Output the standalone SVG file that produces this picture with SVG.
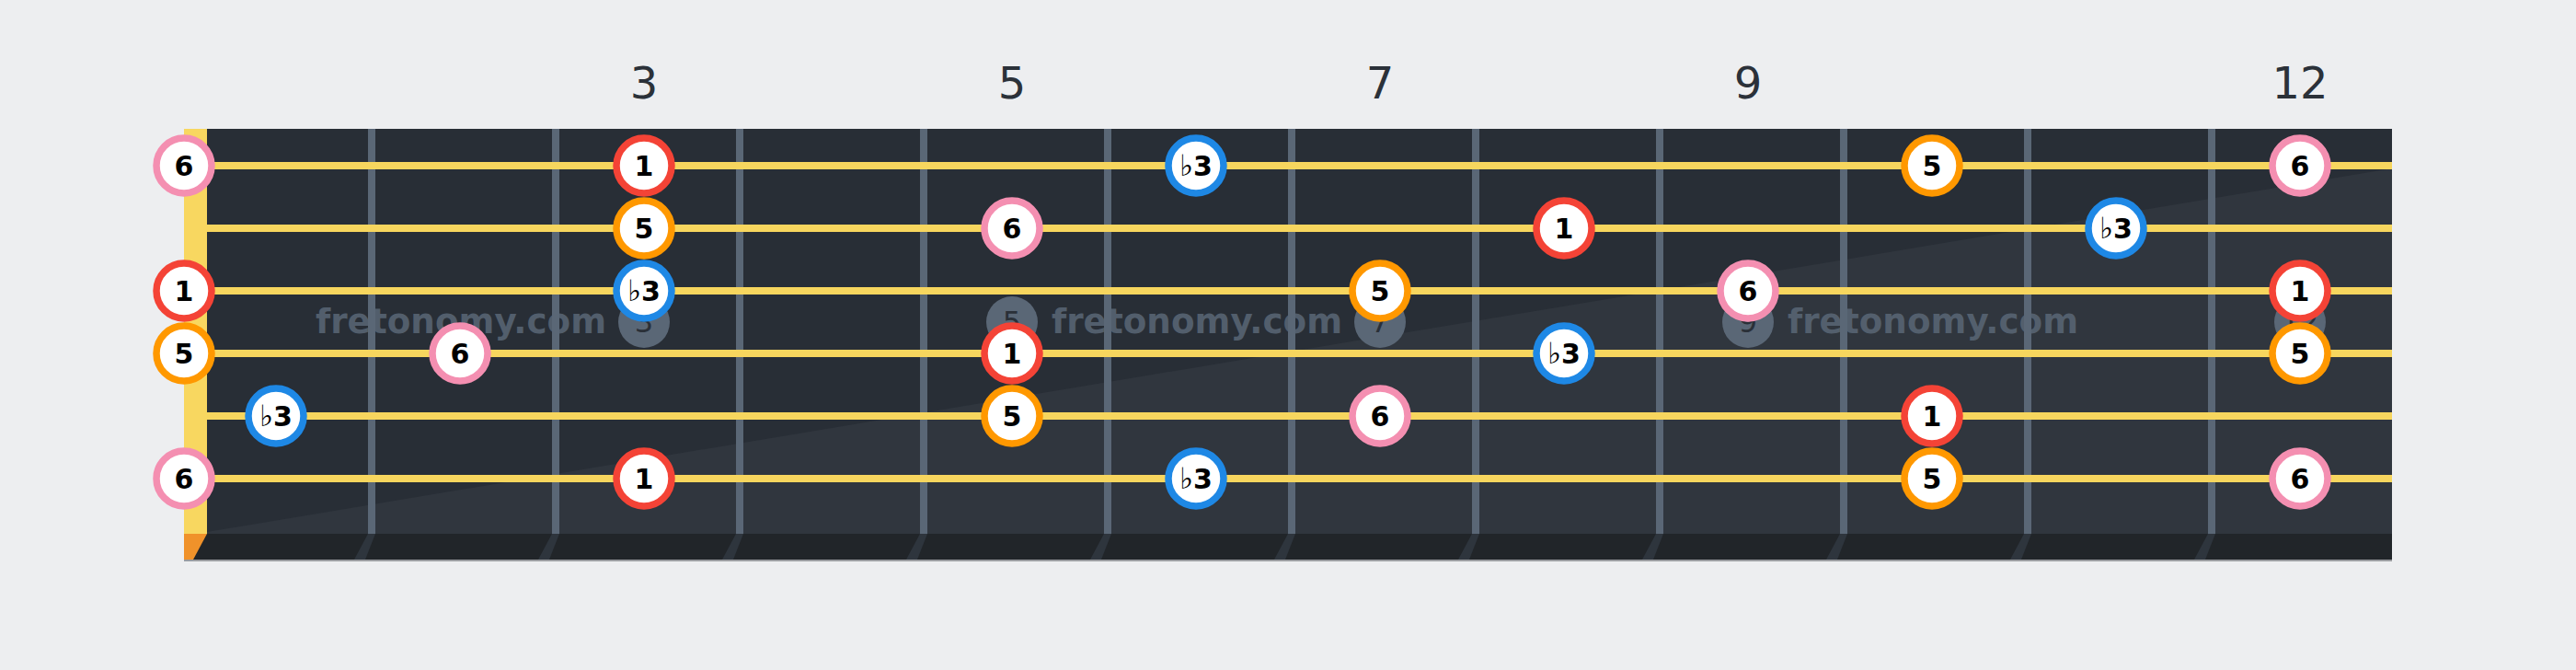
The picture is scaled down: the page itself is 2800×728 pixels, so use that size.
<svg xmlns="http://www.w3.org/2000/svg" width="2800" height="728" viewBox="0 0 2800 728">
<defs>
<style>
.fret{stroke:#5a6776;stroke-width:8}
.str{stroke:#f7d65e;stroke-width:8}
.fs{fill:#2e353d}
.mk{fill:#5a6776}
.mkt{font-family:"DejaVu Sans",sans-serif;font-size:32px;fill:#2a3038;text-anchor:middle}
.fn{font-family:"DejaVu Sans",sans-serif;font-size:48px;fill:#2b3139;text-anchor:middle}
.wm{font-family:"DejaVu Sans",sans-serif;font-weight:bold;font-size:37.3px;fill:#5a6776;opacity:0.85}
.n circle{fill:#ffffff;stroke-width:7.5}
.n text{font-family:"DejaVu Sans",sans-serif;font-weight:bold;font-size:30px;fill:#000;text-anchor:middle}
.n text tspan.fl{font-weight:normal;font-size:32px}
.r circle{stroke:#f44336}
.o circle{stroke:#ff9800}
.b circle{stroke:#1e88e5}
.p circle{stroke:#f48fb1}
</style>
</defs>
<rect width="2800" height="728" fill="#edeef0"/>
<g id="fret-numbers">
<text class="fn" x="700" y="107">3</text>
<text class="fn" x="1100" y="107">5</text>
<text class="fn" x="1500" y="107">7</text>
<text class="fn" x="1900" y="107">9</text>
<text class="fn" x="2500" y="107">12</text>
</g>
<g id="board">
<rect x="225" y="140" width="2375" height="440" fill="#282e36"/>
<polygon points="225,578 2600,183 2600,580 225,580" fill="#30363e"/>
<rect x="200" y="580" width="2400" height="28" fill="#212529"/>
<rect x="200" y="608" width="2400" height="2" fill="#9a9ca0"/>
<rect x="200" y="140" width="25" height="440" fill="#f8d760"/>
<polygon points="200,580 225,580 210,608 200,608" fill="#f0922a"/>
<g id="fret-shadows">
<polygon class="fs" points="400,580 408,580 397,608 385,608"/>
<polygon class="fs" points="600,580 608,580 597,608 585,608"/>
<polygon class="fs" points="800,580 808,580 797,608 785,608"/>
<polygon class="fs" points="1000,580 1008,580 997,608 985,608"/>
<polygon class="fs" points="1200,580 1208,580 1197,608 1185,608"/>
<polygon class="fs" points="1400,580 1408,580 1397,608 1385,608"/>
<polygon class="fs" points="1600,580 1608,580 1597,608 1585,608"/>
<polygon class="fs" points="1800,580 1808,580 1797,608 1785,608"/>
<polygon class="fs" points="2000,580 2008,580 1997,608 1985,608"/>
<polygon class="fs" points="2200,580 2208,580 2197,608 2185,608"/>
<polygon class="fs" points="2400,580 2408,580 2397,608 2385,608"/>
</g>
<g id="frets">
<line class="fret" x1="404" y1="140" x2="404" y2="580"/>
<line class="fret" x1="604" y1="140" x2="604" y2="580"/>
<line class="fret" x1="804" y1="140" x2="804" y2="580"/>
<line class="fret" x1="1004" y1="140" x2="1004" y2="580"/>
<line class="fret" x1="1204" y1="140" x2="1204" y2="580"/>
<line class="fret" x1="1404" y1="140" x2="1404" y2="580"/>
<line class="fret" x1="1604" y1="140" x2="1604" y2="580"/>
<line class="fret" x1="1804" y1="140" x2="1804" y2="580"/>
<line class="fret" x1="2004" y1="140" x2="2004" y2="580"/>
<line class="fret" x1="2204" y1="140" x2="2204" y2="580"/>
<line class="fret" x1="2404" y1="140" x2="2404" y2="580"/>
</g>
<g id="markers">
<circle class="mk" cx="700" cy="350" r="28"/><text class="mkt" x="700" y="361">3</text>
<circle class="mk" cx="1100" cy="350" r="28"/><text class="mkt" x="1100" y="361">5</text>
<circle class="mk" cx="1500" cy="350" r="28"/><text class="mkt" x="1500" y="361">7</text>
<circle class="mk" cx="1900" cy="350" r="28"/><text class="mkt" x="1900" y="361">9</text>
<circle class="mk" cx="2500" cy="350" r="28"/><text class="mkt" x="2500" y="361">12</text>
</g>
<g id="watermark">
<text class="wm" x="343" y="362">fretonomy.com</text>
<text class="wm" x="1143" y="362">fretonomy.com</text>
<text class="wm" x="1943" y="362">fretonomy.com</text>
</g>
<g id="strings">
<line class="str" x1="225" y1="180" x2="2600" y2="180"/>
<line class="str" x1="225" y1="248" x2="2600" y2="248"/>
<line class="str" x1="225" y1="316" x2="2600" y2="316"/>
<line class="str" x1="225" y1="384" x2="2600" y2="384"/>
<line class="str" x1="225" y1="452" x2="2600" y2="452"/>
<line class="str" x1="225" y1="520" x2="2600" y2="520"/>
</g>
</g>
<g id="notes">
<g id="s1-f0" class="n p"><circle cx="200" cy="180" r="30"/><text x="200" y="191">6</text></g>
<g id="s1-f3" class="n r"><circle cx="700" cy="180" r="30"/><text x="700" y="191">1</text></g>
<g id="s1-f6" class="n b"><circle cx="1300" cy="180" r="30"/><text x="1300" y="191"><tspan class="fl">♭</tspan>3</text></g>
<g id="s1-f10" class="n o"><circle cx="2100" cy="180" r="30"/><text x="2100" y="191">5</text></g>
<g id="s1-f12" class="n p"><circle cx="2500" cy="180" r="30"/><text x="2500" y="191">6</text></g>

<g id="s2-f3" class="n o"><circle cx="700" cy="248" r="30"/><text x="700" y="259">5</text></g>
<g id="s2-f5" class="n p"><circle cx="1100" cy="248" r="30"/><text x="1100" y="259">6</text></g>
<g id="s2-f8" class="n r"><circle cx="1700" cy="248" r="30"/><text x="1700" y="259">1</text></g>
<g id="s2-f11" class="n b"><circle cx="2300" cy="248" r="30"/><text x="2300" y="259"><tspan class="fl">♭</tspan>3</text></g>

<g id="s3-f0" class="n r"><circle cx="200" cy="316" r="30"/><text x="200" y="327">1</text></g>
<g id="s3-f3" class="n b"><circle cx="700" cy="316" r="30"/><text x="700" y="327"><tspan class="fl">♭</tspan>3</text></g>
<g id="s3-f7" class="n o"><circle cx="1500" cy="316" r="30"/><text x="1500" y="327">5</text></g>
<g id="s3-f9" class="n p"><circle cx="1900" cy="316" r="30"/><text x="1900" y="327">6</text></g>
<g id="s3-f12" class="n r"><circle cx="2500" cy="316" r="30"/><text x="2500" y="327">1</text></g>

<g id="s4-f0" class="n o"><circle cx="200" cy="384" r="30"/><text x="200" y="395">5</text></g>
<g id="s4-f2" class="n p"><circle cx="500" cy="384" r="30"/><text x="500" y="395">6</text></g>
<g id="s4-f5" class="n r"><circle cx="1100" cy="384" r="30"/><text x="1100" y="395">1</text></g>
<g id="s4-f8" class="n b"><circle cx="1700" cy="384" r="30"/><text x="1700" y="395"><tspan class="fl">♭</tspan>3</text></g>
<g id="s4-f12" class="n o"><circle cx="2500" cy="384" r="30"/><text x="2500" y="395">5</text></g>

<g id="s5-f1" class="n b"><circle cx="300" cy="452" r="30"/><text x="300" y="463"><tspan class="fl">♭</tspan>3</text></g>
<g id="s5-f5" class="n o"><circle cx="1100" cy="452" r="30"/><text x="1100" y="463">5</text></g>
<g id="s5-f7" class="n p"><circle cx="1500" cy="452" r="30"/><text x="1500" y="463">6</text></g>
<g id="s5-f10" class="n r"><circle cx="2100" cy="452" r="30"/><text x="2100" y="463">1</text></g>

<g id="s6-f0" class="n p"><circle cx="200" cy="520" r="30"/><text x="200" y="531">6</text></g>
<g id="s6-f3" class="n r"><circle cx="700" cy="520" r="30"/><text x="700" y="531">1</text></g>
<g id="s6-f6" class="n b"><circle cx="1300" cy="520" r="30"/><text x="1300" y="531"><tspan class="fl">♭</tspan>3</text></g>
<g id="s6-f10" class="n o"><circle cx="2100" cy="520" r="30"/><text x="2100" y="531">5</text></g>
<g id="s6-f12" class="n p"><circle cx="2500" cy="520" r="30"/><text x="2500" y="531">6</text></g>
</g>
</svg>
